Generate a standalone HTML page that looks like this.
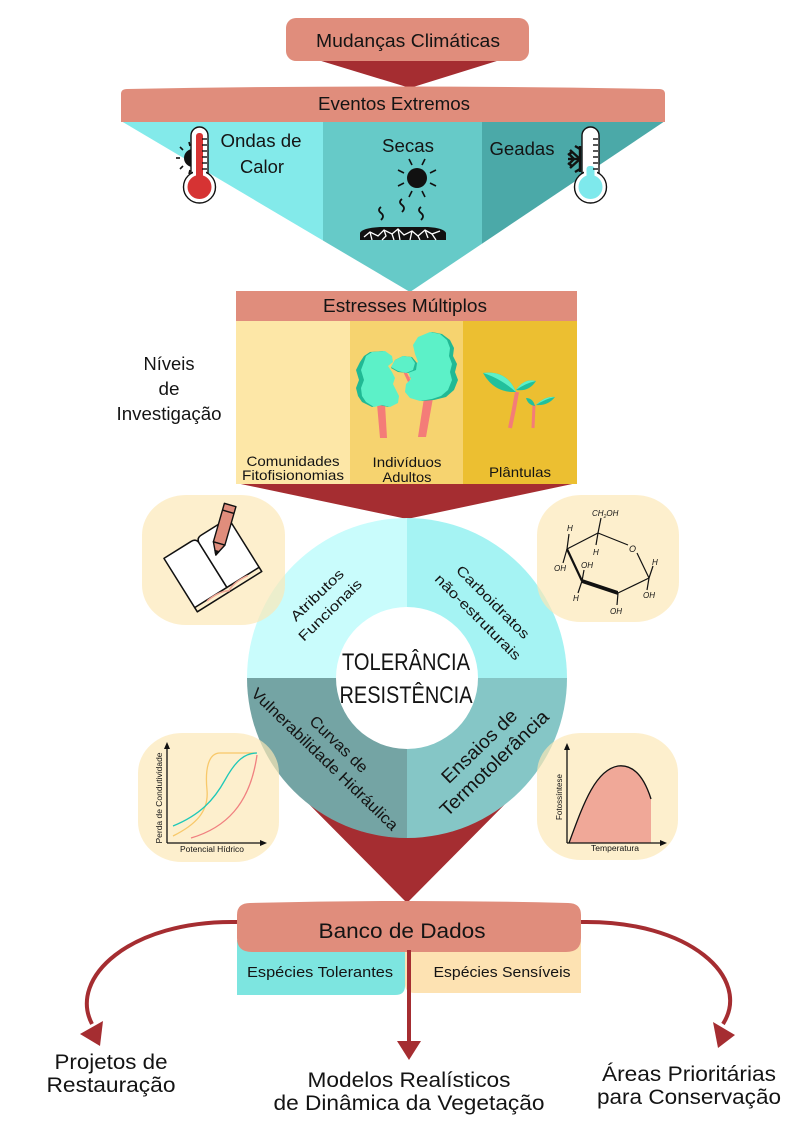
<!DOCTYPE html>
<html><head><meta charset="utf-8"><style>
html,body{margin:0;padding:0;background:#fff;}
svg{display:block;}
text{font-family:"Liberation Sans",sans-serif;fill:#141414;}
</style></head><body>
<svg width="794" height="1123" viewBox="0 0 794 1123" xmlns="http://www.w3.org/2000/svg">
<defs>
<clipPath id="tri"><polygon points="121,121 665,121 410,292"/></clipPath>
</defs>

<!-- ===== TOP ===== -->
<polygon points="318,60 500,60 410,88" fill="#a52d31"/>
<rect x="286" y="18" width="243" height="43" rx="10" fill="#e08d7c"/>
<text x="408" y="47" font-size="18" text-anchor="middle" textLength="184" lengthAdjust="spacingAndGlyphs">Mudanças Climáticas</text>

<g clip-path="url(#tri)">
<rect x="121" y="120" width="202" height="180" fill="#83eaea"/>
<rect x="323" y="120" width="159" height="180" fill="#66cac8"/>
<rect x="482" y="120" width="183" height="180" fill="#4ba9a8"/>
</g>
<path d="M121,94 Q121,89 127,89 Q393,84 659,89 Q665,89 665,94 L665,122 L121,122 Z" fill="#e08d7c"/>
<text x="394" y="110" font-size="18" text-anchor="middle" textLength="152" lengthAdjust="spacingAndGlyphs">Eventos Extremos</text>

<text x="261" y="147" font-size="18" text-anchor="middle" textLength="81" lengthAdjust="spacingAndGlyphs">Ondas de</text>
<text x="262" y="173" font-size="18" text-anchor="middle" textLength="44" lengthAdjust="spacingAndGlyphs">Calor</text>
<text x="408" y="152" font-size="18" text-anchor="middle" textLength="52" lengthAdjust="spacingAndGlyphs">Secas</text>
<text x="522" y="155" font-size="18" text-anchor="middle" textLength="65" lengthAdjust="spacingAndGlyphs">Geadas</text>

<!-- left thermometer + half sun -->
<circle cx="193" cy="158" r="9" fill="#111"/>
<g stroke="#111" stroke-width="1.6">
<line x1="176" y1="158" x2="180" y2="158"/>
<line x1="180" y1="147" x2="183" y2="150"/>
<line x1="180" y1="169" x2="183" y2="166"/>
<line x1="189" y1="142" x2="190" y2="146"/>
<line x1="189" y1="174" x2="190" y2="170"/>
</g>
<rect x="191" y="127" width="17" height="58" rx="8.5" fill="#fff" stroke="#111" stroke-width="1.4"/>
<circle cx="199.5" cy="187" r="16" fill="#fff" stroke="#111" stroke-width="1.4"/>
<rect x="193" y="170" width="13" height="10" fill="#fff"/>
<rect x="196" y="133" width="7" height="50" rx="3" fill="#d63333"/>
<circle cx="199.5" cy="187" r="12" fill="#d63333"/>
<g stroke="#111" stroke-width="1.4">
<line x1="202" y1="139" x2="207" y2="139"/><line x1="202" y1="145" x2="207" y2="145"/>
<line x1="202" y1="151" x2="207" y2="151"/><line x1="202" y1="157" x2="207" y2="157"/>
<line x1="202" y1="163" x2="207" y2="163"/><line x1="202" y1="169" x2="207" y2="169"/>
</g>

<!-- sun, wavy lines, cracked ground -->
<circle cx="417" cy="178" r="10" fill="#111"/>
<g stroke="#111" stroke-width="1.6">
<line x1="409" y1="159" x2="412" y2="165"/>
<line x1="425" y1="159" x2="422" y2="165"/>
<line x1="398" y1="170" x2="404" y2="173"/>
<line x1="436" y1="170" x2="430" y2="173"/>
<line x1="398" y1="186" x2="404" y2="183"/>
<line x1="436" y1="186" x2="430" y2="183"/>
<line x1="409" y1="197" x2="412" y2="191"/>
<line x1="425" y1="197" x2="422" y2="191"/>
</g>
<g fill="none" stroke="#111" stroke-width="1.8">
<path d="M381,207 Q377,210 381,213 Q385,216 381,220"/>
<path d="M402,199 Q398,202 402,205 Q406,208 402,212"/>
<path d="M421,207 Q417,210 421,213 Q425,216 421,220"/>
</g>
<path d="M360,240 L360,233 Q362,228 380,227 L428,227 Q444,228 446,233 L446,240 Z" fill="#111"/>
<g fill="none" stroke="#fff" stroke-width="1.3">
<path d="M364,237 L370,232 L378,236 L384,230 L392,234 L398,229 L404,235 L412,231 L418,236 L425,230 L432,234 L440,231"/>
<path d="M370,232 L372,240 M384,230 L386,236 L382,240 M398,229 L400,240 M412,231 L410,240 M425,230 L428,238 M432,234 L436,240 M392,234 L394,240 M418,236 L420,240"/>
</g>

<!-- right thermometer + snowflake -->
<g stroke="#111" stroke-width="2.4" fill="none">
<line x1="580" y1="146" x2="580" y2="172"/>
<line x1="580" y1="159" x2="568" y2="159"/>
<line x1="580" y1="159" x2="570" y2="150"/>
<line x1="580" y1="159" x2="570" y2="168"/>
<path d="M572,152 L568,155 M572,166 L568,163 M574,159 L570,163 M574,159 L570,155 M580,149 L575,146 M580,169 L575,172"/>
</g>
<rect x="582" y="127" width="17" height="58" rx="8.5" fill="#fff" stroke="#111" stroke-width="1.4"/>
<circle cx="590.5" cy="187" r="16" fill="#fff" stroke="#111" stroke-width="1.4"/>
<rect x="584" y="170" width="13" height="10" fill="#fff"/>
<rect x="586.5" y="166" width="8" height="18" rx="3" fill="#7ee9ec"/>
<circle cx="590.5" cy="187" r="12" fill="#7ee9ec"/>
<g stroke="#111" stroke-width="1.4">
<line x1="593" y1="139" x2="598" y2="139"/><line x1="593" y1="145" x2="598" y2="145"/>
<line x1="593" y1="151" x2="598" y2="151"/><line x1="593" y1="157" x2="598" y2="157"/>
<line x1="593" y1="163" x2="598" y2="163"/><line x1="593" y1="169" x2="598" y2="169"/>
</g>

<!-- ===== ESTRESSES ===== -->
<polygon points="236,483 577,483 407,519" fill="#a52d31"/>
<rect x="236" y="291" width="341" height="30" fill="#e08d7c"/>
<rect x="236" y="321" width="114" height="163" fill="#fde7a7"/>
<rect x="350" y="321" width="113" height="163" fill="#f6d36f"/>
<rect x="463" y="321" width="114" height="163" fill="#ecbf31"/>
<text x="405" y="312" font-size="18" text-anchor="middle" textLength="164" lengthAdjust="spacingAndGlyphs">Estresses Múltiplos</text>

<text x="169" y="370" font-size="18" text-anchor="middle" textLength="51" lengthAdjust="spacingAndGlyphs">Níveis</text>
<text x="169" y="395" font-size="18" text-anchor="middle" textLength="21" lengthAdjust="spacingAndGlyphs">de</text>
<text x="169" y="420" font-size="18" text-anchor="middle" textLength="105" lengthAdjust="spacingAndGlyphs">Investigação</text>

<text x="293" y="466" font-size="14" text-anchor="middle" textLength="93" lengthAdjust="spacingAndGlyphs">Comunidades</text>
<text x="293" y="480" font-size="14" text-anchor="middle" textLength="102" lengthAdjust="spacingAndGlyphs">Fitofisionomias</text>
<text x="407" y="467" font-size="14" text-anchor="middle" textLength="69" lengthAdjust="spacingAndGlyphs">Indivíduos</text>
<text x="407" y="482" font-size="14" text-anchor="middle" textLength="49" lengthAdjust="spacingAndGlyphs">Adultos</text>
<text x="520" y="477" font-size="14" text-anchor="middle" textLength="62" lengthAdjust="spacingAndGlyphs">Plântulas</text>

<!-- trees -->
<polygon points="377,404 385,404 387,438 380,438" fill="#f47c78"/>
<polygon points="424,398 433,398 426,437 418,437" fill="#f47c78"/>
<line x1="404" y1="370" x2="412" y2="387" stroke="#f47c78" stroke-width="3"/>
<line x1="410" y1="378" x2="416" y2="372" stroke="#f47c78" stroke-width="2"/>
<path d="M364,356 L370,352 L383,351 L390,356 L391,362 L386,366 L390,372 L393,378 L391,384 L394,390 L397,396 L396,403 L388,407 L380,405 L372,407 L362,402 L358,396 L356,388 L359,380 L356,370 L360,362 Z" fill="#21b994"/>
<path d="M366,356 L372,352 L385,351 L392,356 L393,362 L388,366 L392,372 L395,378 L393,384 L396,390 L399,396 L398,403 L390,407 L382,405 L374,407 L366,402 L362,396 L361,388 L364,380 L361,370 L364,362 Z" fill="#5cf1c8"/>
<path d="M420,337 L432,332 L442,334 L450,340 L454,348 L453,356 L457,364 L455,372 L458,380 L454,390 L446,397 L434,400 L422,401 L412,398 L407,392 L408,384 L413,379 L410,372 L414,366 L420,362 L417,354 L415,345 Z" fill="#21b994"/>
<path d="M418,337 L430,332 L440,334 L447,340 L450,348 L449,356 L452,364 L450,372 L452,380 L448,390 L441,396 L432,399 L420,401 L410,398 L405,392 L406,384 L411,379 L408,372 L412,366 L418,362 L415,354 L413,345 Z" fill="#5cf1c8"/>
<path d="M395,360 L403,356 L412,357 L417,363 L416,370 L408,373 L398,372 L391,368 Z" fill="#21b994"/>
<path d="M395,360 L403,356 L411,357 L415,363 L413,370 L406,373 L398,371 L391,367 Z" fill="#5cf1c8"/>

<!-- seedlings -->
<path d="M517,392 Q514,410 510,428" fill="none" stroke="#f47c78" stroke-width="4"/>
<path d="M534,405 L533,428" fill="none" stroke="#f47c78" stroke-width="3"/>
<path d="M483,373 Q507,370 516,392 Q494,393 483,373 Z" fill="#22c09c"/>
<path d="M483,373 Q507,370 516,392 Q500,378 483,373 Z" fill="#5ff0c8"/>
<path d="M516,390 Q524,378 536,381 Q529,392 516,390 Z" fill="#22c09c"/>
<path d="M516,390 Q524,378 536,381 Q526,383 516,390 Z" fill="#5ff0c8"/>
<path d="M526,398 Q533,398 535,406 Q528,405 526,398 Z" fill="#22c09c"/>
<path d="M536,405 Q545,396 555,397 Q548,406 536,405 Z" fill="#22c09c"/>
<path d="M536,405 Q545,396 555,397 Q545,399 536,405 Z" fill="#5ff0c8"/>

<!-- ===== CIRCLE ===== -->
<polygon points="285,780 529,780 407,903" fill="#a52d31"/>
<path d="M407,678 L247,678 A160,160 0 0,1 407,518 Z" fill="#c9fcfc"/>
<path d="M407,678 L407,518 A160,160 0 0,1 567,678 Z" fill="#a5f3f3"/>
<path d="M407,678 L567,678 A160,160 0 0,1 407,838 Z" fill="#85c6c6"/>
<path d="M407,678 L407,838 A160,160 0 0,1 247,678 Z" fill="#74a4a4"/>
<circle cx="407" cy="678" r="71" fill="#fff"/>

<text x="406" y="670" font-size="24" text-anchor="middle" textLength="128" lengthAdjust="spacingAndGlyphs">TOLERÂNCIA</text>
<text x="406" y="703" font-size="24" text-anchor="middle" textLength="133" lengthAdjust="spacingAndGlyphs">RESISTÊNCIA</text>

<g font-size="14" text-anchor="middle">
<text transform="translate(317,595) rotate(-44)" dy="0.35em" textLength="68" lengthAdjust="spacingAndGlyphs">Atributos</text>
<text transform="translate(330,610) rotate(-44)" dy="0.35em" textLength="82" lengthAdjust="spacingAndGlyphs">Funcionais</text>
<text transform="translate(493,602) rotate(45)" dy="0.35em" textLength="97" lengthAdjust="spacingAndGlyphs">Carboidratos</text>
<text transform="translate(478,617) rotate(45)" dy="0.35em" textLength="115" lengthAdjust="spacingAndGlyphs">não-estruturais</text>
</g>
<g font-size="16" text-anchor="middle">
<text transform="translate(339,744) rotate(44)" dy="0.35em" textLength="74" lengthAdjust="spacingAndGlyphs">Curvas de</text>
<text transform="translate(325,759) rotate(44)" dy="0.35em" textLength="197" lengthAdjust="spacingAndGlyphs">Vulnerabilidade Hidráulica</text>
</g>
<g font-size="19" text-anchor="middle">
<text transform="translate(479,746) rotate(-44)" dy="0.35em" textLength="97" lengthAdjust="spacingAndGlyphs">Ensaios de</text>
<text transform="translate(494,763) rotate(-44)" dy="0.35em" textLength="143" lengthAdjust="spacingAndGlyphs">Termotolerância</text>
</g>

<!-- cream blobs -->
<g fill="#fce8b5" opacity="0.68">
<rect x="142" y="495" width="143" height="130" rx="44" ry="40"/>
<rect x="537" y="495" width="142" height="127" rx="44" ry="40"/>
<rect x="138" y="733" width="141" height="129" rx="44" ry="40"/>
<rect x="537" y="733" width="141" height="127" rx="44" ry="40"/>
</g>

<!-- book -->
<g transform="translate(211,562) rotate(-32)" stroke="#111" stroke-width="1.5" fill="#fff" stroke-linejoin="round">
<path d="M-38,-28 L-6,-28 Q0,-28 0,-22 L0,30 L-38,30 Z"/>
<path d="M0,-22 Q0,-28 6,-28 L38,-28 L38,30 L0,30 Z"/>
<path d="M-38,30 L-38,35 L38,35 L38,30" fill="none"/>
<path d="M-24,31 Q-8,29 0,34 Q8,29 24,31" fill="none" stroke="#f0a898" stroke-width="1.6"/>
</g>
<!-- pencil -->
<g transform="translate(223,530) rotate(16)" stroke="#111" stroke-width="1.4" stroke-linejoin="round">
<rect x="-6" y="-26" width="12" height="40" fill="#e08d7c"/>
<line x1="-6" y1="-19" x2="6" y2="-19"/>
<polygon points="-6,14 6,14 0,26" fill="#e08d7c"/>
<polygon points="-2,22 2,22 0,26" fill="#111"/>
</g>

<!-- molecule -->
<g stroke="#111" stroke-width="1.2" fill="none">
<line x1="567" y1="549" x2="598" y2="533"/>
<line x1="598" y1="533" x2="628" y2="545"/>
<line x1="637" y1="553" x2="649" y2="578"/>
<line x1="649" y1="578" x2="618" y2="593"/>
<line x1="567" y1="549" x2="582" y2="581" stroke-width="2.2"/>
<line x1="598" y1="533" x2="601" y2="518"/>
<line x1="598" y1="533" x2="596" y2="545"/>
<line x1="567" y1="549" x2="569" y2="534"/>
<line x1="567" y1="549" x2="563" y2="563"/>
<line x1="582" y1="581" x2="584" y2="570"/>
<line x1="582" y1="581" x2="578" y2="593"/>
<line x1="618" y1="593" x2="617" y2="605"/>
<line x1="649" y1="578" x2="653" y2="566"/>
<line x1="649" y1="578" x2="647" y2="590"/>
</g>
<path d="M582,579 L618,591 L618,595 L582,583 Z" fill="#111"/>
<g font-size="8" font-style="italic">
<text x="592" y="516">CH<tspan font-size="5" dy="2">2</tspan><tspan dy="-2">OH</tspan></text>
<text x="629" y="552" font-size="9">O</text>
<text x="593" y="555">H</text>
<text x="567" y="531">H</text>
<text x="554" y="571">OH</text>
<text x="581" y="568">OH</text>
<text x="573" y="601">H</text>
<text x="610" y="614">OH</text>
<text x="652" y="565">H</text>
<text x="643" y="598">OH</text>
</g>

<!-- left graph -->
<g stroke="#111" stroke-width="1.3" fill="none">
<line x1="167" y1="746" x2="167" y2="843"/>
<line x1="167" y1="843" x2="263" y2="843"/>
</g>
<polygon points="167,742 164,749 170,749" fill="#111"/>
<polygon points="267,843 260,840 260,846" fill="#111"/>
<path d="M173,836 C195,825 209,812 207,790 C205,770 208,753 220,753 L256,753" fill="none" stroke="#f8c86a" stroke-width="1.3"/>
<path d="M173,826 C200,815 214,800 225,780 C236,760 245,753 257,753" fill="none" stroke="#1fc8b8" stroke-width="1.3"/>
<path d="M191,838 C225,828 250,805 257,755" fill="none" stroke="#f08080" stroke-width="1.3"/>
<text transform="translate(162,798) rotate(-90)" font-size="8" text-anchor="middle" textLength="91" lengthAdjust="spacingAndGlyphs">Perda de Condutividade</text>
<text x="212" y="852" font-size="8" text-anchor="middle" textLength="64" lengthAdjust="spacingAndGlyphs">Potencial Hídrico</text>

<!-- right graph -->
<path d="M569,843 C583,805 595,770 618,766 C635,764 645,780 651,799 L651,843 Z" fill="#f0a898"/>
<path d="M569,843 C583,805 595,770 618,766 C635,764 645,780 651,799" fill="none" stroke="#111" stroke-width="1.3"/>
<g stroke="#111" stroke-width="1.3" fill="none">
<line x1="567" y1="747" x2="567" y2="843"/>
<line x1="567" y1="843" x2="663" y2="843"/>
</g>
<polygon points="567,743 564,750 570,750" fill="#111"/>
<polygon points="667,843 660,840 660,846" fill="#111"/>
<text transform="translate(562,797) rotate(-90)" font-size="8" text-anchor="middle" textLength="46" lengthAdjust="spacingAndGlyphs">Fotossíntese</text>
<text x="615" y="851" font-size="8" text-anchor="middle" textLength="48" lengthAdjust="spacingAndGlyphs">Temperatura</text>

<!-- ===== BANCO DE DADOS ===== -->
<path d="M237,940 L405,940 L405,986 Q405,995 395,995 L237,995 Z" fill="#7de5e0"/>
<path d="M405,940 L581,940 L581,993 L415,993 Q405,993 405,984 Z" fill="#fde2b2"/>
<path d="M237,915 Q237,903 250,903 Q409,899 568,903 Q581,903 581,915 L581,938 Q581,952 566,952 L252,952 Q237,952 237,938 Z" fill="#e08d7c"/>
<text x="402" y="938" font-size="21" text-anchor="middle" textLength="167" lengthAdjust="spacingAndGlyphs">Banco de Dados</text>
<text x="320" y="977" font-size="15" text-anchor="middle" textLength="146" lengthAdjust="spacingAndGlyphs">Espécies Tolerantes</text>
<text x="502" y="977" font-size="15" text-anchor="middle" textLength="137" lengthAdjust="spacingAndGlyphs">Espécies Sensíveis</text>

<!-- arrows -->
<g stroke="#a52d31" stroke-width="4" fill="none">
<line x1="409" y1="950" x2="409" y2="1042"/>
<path d="M237,922 C130,920 68,978 92,1024"/>
<path d="M581,922 C690,920 752,978 723,1024"/>
</g>
<polygon points="397,1041 421,1041 409,1060" fill="#a52d31"/>
<polygon points="80,1034 103,1021 100,1046" fill="#a52d31"/>
<polygon points="713,1022 735,1035 718,1048" fill="#a52d31"/>

<!-- bottom texts -->
<g font-size="21" text-anchor="middle">
<text x="111" y="1069" textLength="113" lengthAdjust="spacingAndGlyphs">Projetos de</text>
<text x="111" y="1092" textLength="129" lengthAdjust="spacingAndGlyphs">Restauração</text>
<text x="409" y="1087" textLength="203" lengthAdjust="spacingAndGlyphs">Modelos Realísticos</text>
<text x="409" y="1110" textLength="271" lengthAdjust="spacingAndGlyphs">de Dinâmica da Vegetação</text>
<text x="689" y="1081" textLength="174" lengthAdjust="spacingAndGlyphs">Áreas Prioritárias</text>
<text x="689" y="1104" textLength="184" lengthAdjust="spacingAndGlyphs">para Conservação</text>
</g>
</svg>
</body></html>
